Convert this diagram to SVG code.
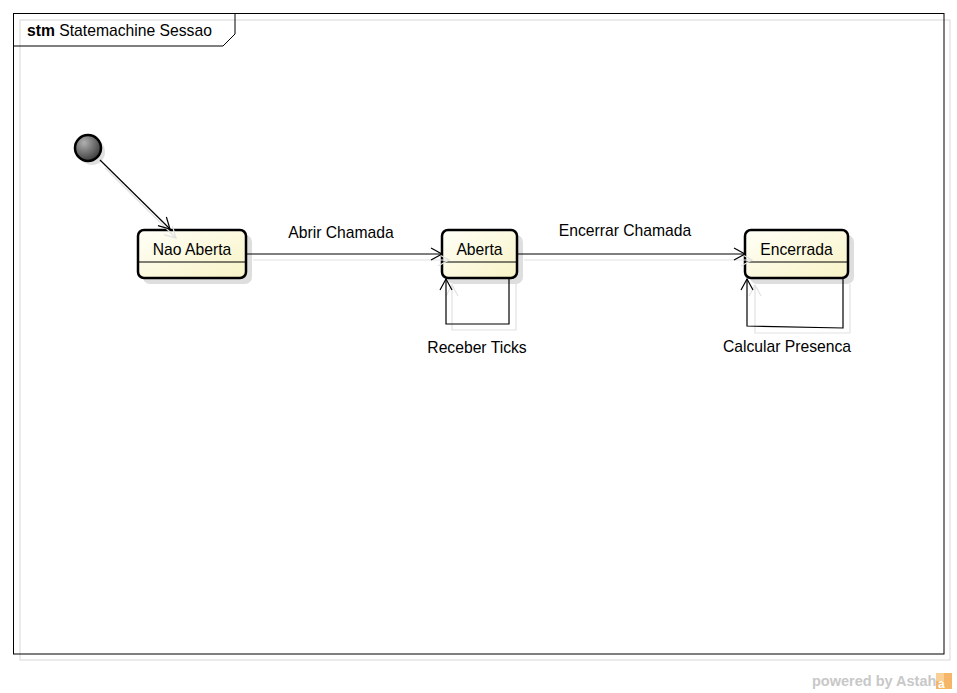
<svg xmlns="http://www.w3.org/2000/svg" width="957" height="693" viewBox="0 0 957 693">
<defs>
<style>
text{font-family:"Liberation Sans",Arial,sans-serif;font-size:15.7px;fill:#000}
.lbl{text-anchor:middle}
.st{fill:url(#sg);stroke:#000;stroke-width:2.5}
.sh{fill:#dedede;stroke:none}
.edge{fill:none;stroke:#000;stroke-width:1.2}
.ghost{fill:none;stroke:#e2e2e2;stroke-width:1.2}
</style>
<linearGradient id="sg" x1="0" y1="0" x2="1" y2="1">
<stop offset="0" stop-color="#fffff8"/>
<stop offset="1" stop-color="#f8f3c6"/>
</linearGradient>
<radialGradient id="ig" cx="0.35" cy="0.3" r="0.8">
<stop offset="0" stop-color="#b0b0b0"/>
<stop offset="1" stop-color="#303030"/>
</radialGradient>
<marker id="oa" markerWidth="14" markerHeight="14" refX="12" refY="7" orient="auto" markerUnits="userSpaceOnUse">
<path d="M1,1 L12,7 L1,13" fill="none" stroke="#000" stroke-width="1.2"/>
</marker>
<marker id="ga" markerWidth="14" markerHeight="14" refX="12" refY="7" orient="auto" markerUnits="userSpaceOnUse">
<path d="M1,1 L12,7 L1,13" fill="none" stroke="#e2e2e2" stroke-width="1.2"/>
</marker>
</defs>
<rect width="957" height="693" fill="#fff"/>
<g id="frame">
<rect x="20" y="20" width="930" height="640" fill="none" stroke="#d8d8d8" stroke-width="1"/>
<rect x="13.5" y="13.5" width="930.5" height="640.5" fill="none" stroke="#000" stroke-width="1"/>
<path d="M13.5,46 L223,46 L235,34 L235,13.5" fill="none" stroke="#000" stroke-width="1"/>
<text x="27" y="36"><tspan font-weight="bold">stm</tspan> Statemachine Sessao</text>
</g>
<g id="initial">
<circle cx="92" cy="152" r="13" fill="#e0e0e0"/>
<circle cx="88" cy="148" r="13" fill="url(#ig)" stroke="#000" stroke-width="2.5"/>
</g>
<g id="nao-aberta">
<rect class="sh" x="143" y="235" width="109" height="49" rx="7"/>
<rect class="st" x="138" y="230" width="108" height="48" rx="6"/>
<line x1="138" y1="262" x2="246" y2="262" stroke="#000" stroke-width="1"/>
<text class="lbl" x="192" y="255">Nao Aberta</text>
</g>
<g id="aberta">
<rect class="sh" x="447" y="235" width="76" height="49" rx="7"/>
<rect class="st" x="442" y="230" width="75" height="48" rx="6"/>
<line x1="442" y1="262" x2="517" y2="262" stroke="#000" stroke-width="1"/>
<text class="lbl" x="479.5" y="255">Aberta</text>
</g>
<g id="encerrada">
<rect class="sh" x="750" y="235" width="104" height="49" rx="7"/>
<rect class="st" x="745" y="230" width="103" height="48" rx="6"/>
<line x1="745" y1="262" x2="848" y2="262" stroke="#000" stroke-width="1"/>
<text class="lbl" x="796.5" y="255">Encerrada</text>
</g>
<g id="connectors">
<line class="ghost" x1="105" y1="168" x2="176" y2="238" marker-end="url(#ga)"/>
<line class="edge" x1="100" y1="160" x2="170" y2="229" marker-end="url(#oa)"/>
<line class="ghost" x1="253" y1="260" x2="449" y2="260" marker-end="url(#ga)"/>
<line class="edge" x1="247" y1="254" x2="442" y2="254" marker-end="url(#oa)"/>
<line class="ghost" x1="524" y1="260" x2="752" y2="260" marker-end="url(#ga)"/>
<line class="edge" x1="518" y1="254" x2="745" y2="254" marker-end="url(#oa)"/>
<path class="ghost" d="M516,284 L516,330 L452,330 L452,285" marker-end="url(#ga)"/>
<path class="edge" d="M509,279 L509,324 L446,324 L446,279" marker-end="url(#oa)"/>
<path class="ghost" d="M850,284 L850,333 L755,333 L755,285" marker-end="url(#ga)"/>
<path class="edge" d="M843,279 L843,328 L747,326 L747,279" marker-end="url(#oa)"/>
<text class="lbl" x="341" y="238">Abrir Chamada</text>
<text class="lbl" x="625" y="236">Encerrar Chamada</text>
<text class="lbl" x="477" y="353">Receber Ticks</text>
<text class="lbl" x="787" y="352">Calcular Presenca</text>
</g>
<g id="astah">
<text x="812" y="686" style="font-size:14.5px;font-weight:bold;fill:#c8c8c8">powered by Astah</text>
<rect x="936" y="673" width="16" height="16" fill="#f5b66a"/>
<rect x="936" y="673" width="8" height="8" fill="#f8cf94"/>
<text x="938" y="688" style="font-size:12px;font-weight:bold;fill:#fff">a</text>
</g>
</svg>
